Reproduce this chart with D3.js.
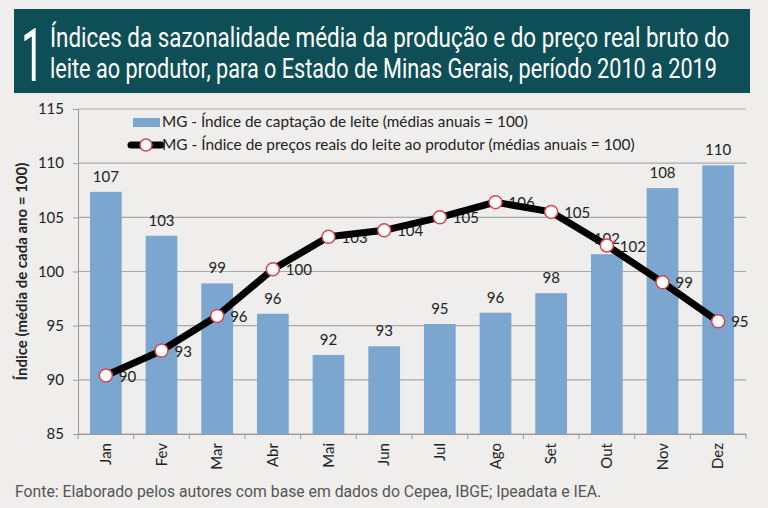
<!DOCTYPE html>
<html>
<head>
<meta charset="utf-8">
<script src="https://cdn.jsdelivr.net/npm/d3@7"></script>
<style>
  body { margin: 0; background: #efeeec; }
  svg { display: block; }
</style>
</head>
<body>
<div id="container"></div>
<script>
/* CONSTANTS AND GLOBALS */
const width = 768;
const height = 508;
const margin = { top: 109, right: 22, bottom: 74, left: 78 };

/* DATA */
const months = ["Jan", "Fev", "Mar", "Abr", "Mai", "Jun", "Jul", "Ago", "Set", "Out", "Nov", "Dez"];
const captacao = [107.35, 103.3, 98.9, 96.1, 92.3, 93.1, 95.15, 96.2, 98.0, 101.6, 107.7, 109.8];
const captacaoLabels = [107, 103, 99, 96, 92, 93, 95, 96, 98, 102, 108, 110];
const precos = [90.4, 92.7, 95.9, 100.2, 103.2, 103.8, 105.0, 106.4, 105.5, 102.4, 99.0, 95.4];
const precosLabels = [90, 93, 96, 100, 103, 104, 105, 106, 105, 102, 99, 95];
const yTicks = [85, 90, 95, 100, 105, 110, 115];

const titleLines = [
  "Índices da sazonalidade média da produção e do preço real bruto do",
  "leite ao produtor, para o Estado de Minas Gerais, período 2010 a 2019"
];
const legendLabels = [
  "MG - Índice de captação de leite (médias anuais = 100)",
  "MG - Índice de preços reais do leite ao produtor (médias anuais = 100)"
];
const source = "Fonte: Elaborado pelos autores com base em dados do Cepea, IBGE; Ipeadata e IEA.";

const data = months.map((m, i) => ({
  month: m, bar: captacao[i], barLabel: captacaoLabels[i],
  price: precos[i], priceLabel: precosLabels[i]
}));

// scale a text horizontally to a target width (condensed look)
function fit(sel, x, y, target) {
  sel.each(function () {
    const w = this.getComputedTextLength();
    const k = target / w;
    d3.select(this)
      .attr("x", 0).attr("y", 0)
      .attr("transform", `translate(${x}, ${y}) scale(${k}, 1)`);
  });
}

const svg = d3.select("#container")
  .append("svg")
  .attr("width", width)
  .attr("height", height)
  .style("background", "#efeeec");

// title box
svg.append("rect")
  .attr("x", 14).attr("y", 9)
  .attr("width", 736).attr("height", 84)
  .attr("fill", "#0e4f57");

svg.append("text")
  .attr("fill", "white")
  .style("font-family", "Roboto")
  .style("font-size", "74px")
  .text("1")
  .call(fit, 21, 81, 23);

svg.selectAll(".title")
  .data(titleLines)
  .join("text")
  .attr("class", "title")
  .attr("fill", "white")
  .style("font-family", "Roboto")
  .style("font-size", "27px")
  .text(d => d)
  .each(function (d, i) {
    d3.select(this).call(fit, 50, 47 + i * 31, i === 0 ? 680 : 667);
  });

/* SCALES */
const xScale = d3.scaleBand()
  .domain(months)
  .range([margin.left, width - margin.right])
  .paddingInner(0.43)
  .paddingOuter(0.215);

const yScale = d3.scaleLinear()
  .domain([85, 115])
  .range([height - margin.bottom, margin.top]);

const cx = d => xScale(d) + xScale.bandwidth() / 2;

// gridlines
svg.append("g")
  .selectAll("line")
  .data(yTicks)
  .join("line")
  .attr("x1", margin.left)
  .attr("x2", width - margin.right)
  .attr("y1", d => yScale(d))
  .attr("y2", d => yScale(d))
  .attr("stroke", "#a9a9a9")
  .attr("stroke-width", 1.2);

// y axis
const yAxis = svg.append("g")
  .attr("transform", `translate(${margin.left}, 0)`)
  .call(d3.axisLeft(yScale).tickValues(yTicks).tickSize(5).tickPadding(9));
yAxis.select(".domain").attr("stroke", "#999");
yAxis.selectAll(".tick line").attr("stroke", "#999");
yAxis.selectAll("text")
  .style("font-family", "Lato")
  .style("font-size", "15px")
  .attr("fill", "#222");

// x axis
const xAxis = svg.append("g")
  .attr("transform", `translate(0, ${height - margin.bottom})`)
  .call(d3.axisBottom(xScale).tickSize(0).tickPadding(0));
xAxis.select(".domain").attr("stroke", "#999");
xAxis.selectAll("text")
  .attr("transform", "rotate(-90)")
  .attr("text-anchor", "end")
  .attr("x", -9)
  .attr("y", 0)
  .attr("dy", "0.35em")
  .style("font-family", "Lato")
  .style("font-size", "15px")
  .attr("fill", "#222");

// category separators on x axis
const step = xScale.step();
svg.append("g")
  .selectAll("line")
  .data(d3.range(months.length + 1))
  .join("line")
  .attr("x1", i => margin.left + i * step)
  .attr("x2", i => margin.left + i * step)
  .attr("y1", height - margin.bottom)
  .attr("y2", height - margin.bottom + 5)
  .attr("stroke", "#999");

// bars
svg.selectAll(".bar")
  .data(data)
  .join("rect")
  .attr("class", "bar")
  .attr("x", d => xScale(d.month))
  .attr("y", d => yScale(d.bar))
  .attr("width", xScale.bandwidth())
  .attr("height", d => yScale(85) - yScale(d.bar))
  .attr("fill", "#7ba6d0");

// bar labels
svg.selectAll(".bar-nums")
  .data(data)
  .join("text")
  .attr("class", "bar-nums")
  .attr("x", d => cx(d.month))
  .attr("y", d => yScale(d.bar) - 10)
  .attr("text-anchor", "middle")
  .style("font-family", "Lato")
  .style("font-size", "15px")
  .attr("fill", "#222")
  .text(d => d.barLabel);

// price labels (under the line)
svg.selectAll(".price-nums")
  .data(data)
  .join("text")
  .attr("class", "price-nums")
  .attr("x", d => cx(d.month) + 13)
  .attr("y", d => yScale(d.price) + 6)
  .style("font-family", "Lato")
  .style("font-size", "15px")
  .attr("fill", "#222")
  .text(d => d.priceLabel);

// price line
const line = d3.line()
  .x(d => cx(d.month))
  .y(d => yScale(d.price));

svg.append("path")
  .datum(data)
  .attr("d", line)
  .attr("fill", "none")
  .attr("stroke", "black")
  .attr("stroke-width", 7)
  .attr("stroke-linejoin", "round");

svg.selectAll(".dot")
  .data(data)
  .join("circle")
  .attr("class", "dot")
  .attr("cx", d => cx(d.month))
  .attr("cy", d => yScale(d.price))
  .attr("r", 6.5)
  .attr("fill", "white")
  .attr("stroke", "#d9454f")
  .attr("stroke-width", 1.5);

// legend
const legend = svg.append("g");
legend.append("rect")
  .attr("x", 133).attr("y", 118)
  .attr("width", 27).attr("height", 9)
  .attr("fill", "#7ba6d0");
legend.append("line")
  .attr("x1", 131).attr("x2", 161)
  .attr("y1", 145).attr("y2", 145)
  .attr("stroke", "black")
  .attr("stroke-width", 7)
  .attr("stroke-linecap", "round");
legend.append("circle")
  .attr("cx", 146).attr("cy", 145).attr("r", 6)
  .attr("fill", "white")
  .attr("stroke", "#d9454f")
  .attr("stroke-width", 1.5);
legend.selectAll(".legend-text")
  .data(legendLabels)
  .join("text")
  .attr("class", "legend-text")
  .style("font-family", "Lato")
  .style("font-size", "15px")
  .attr("fill", "#222")
  .text(d => d)
  .each(function (d, i) {
    d3.select(this).call(fit, 162, 127 + i * 23, i === 0 ? 366 : 473);
  });

// y axis title
svg.append("text")
  .attr("transform", `translate(27, ${yScale(100)}) rotate(-90)`)
  .attr("text-anchor", "middle")
  .style("font-family", "Lato")
  .style("font-weight", "bold")
  .style("font-size", "15px")
  .attr("fill", "#222")
  .text("Índice (média de cada ano = 100)");

// source
svg.append("text")
  .attr("fill", "#555")
  .style("font-family", "Roboto")
  .style("font-size", "17px")
  .text(source)
  .call(fit, 15, 497, 587);
</script>
</body>
</html>
